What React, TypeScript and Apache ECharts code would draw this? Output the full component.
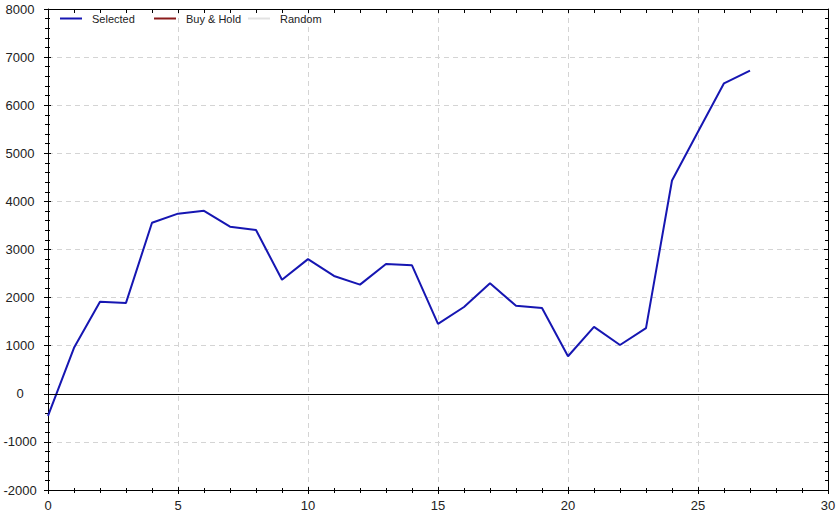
import React, { useEffect, useRef } from "react";
import * as echarts from "echarts";

const xValues = [0, 1, 2, 3, 4, 5, 6, 7, 8, 9, 10, 11, 12, 13, 14, 15, 16, 17, 18, 19, 20, 21, 22, 23, 24, 25, 26, 27];
const selectedValues = [-460, 955, 1915, 1890, 3555, 3745, 3805, 3475, 3405, 2370, 2800, 2450, 2270, 2700, 2670, 1455, 1805, 2300, 1830, 1785, 780, 1390, 1015, 1365, 4435, 5450, 6455, 6720];
const buyHoldValues: number[] = [];
const randomValues: number[] = [];
const seriesNames = ["Selected", "Buy & Hold", "Random"];
const seriesColors = ["#1616b2", "#8b1c1c", "#e2e2e2"];
const legendLefts = [60, 154, 248];

const FONT = "'Liberation Sans', Arial, sans-serif";

export default function App() {
  const ref = useRef<HTMLDivElement>(null);
  useEffect(() => {
    if (!ref.current) return;
    const chart = echarts.init(ref.current, null, { renderer: "svg" });
    const yBase = { type: "value", min: -2000, max: 8000, interval: 1000 };
    const xBase = { type: "value", min: 0, max: 30, interval: 5 };
    const axLine = { show: true, onZero: false, lineStyle: { color: "#000", width: 1 } };
    const noLine = { show: false, onZero: false };
    const split = { show: true, lineStyle: { color: "#d4d4d4", type: [5, 4], width: 1 } };
    const option: any = {
      animation: false,
      backgroundColor: "#fff",
      grid: { left: 48, right: 11, top: 9, bottom: 24, containLabel: false },
      legend: seriesNames.map((n, i) => ({
        left: legendLefts[i],
        top: 13,
        padding: 0,
        itemWidth: 22,
        itemHeight: 2,
        icon: "rect",
        data: [{ name: n, itemStyle: { color: seriesColors[i] } }],
        textStyle: { fontFamily: FONT, fontSize: 11, color: "#222", padding: [0, 0, 0, 5] },
        selectedMode: false,
      })),
      xAxis: [
        {
          ...xBase,
          position: "bottom",
          axisLine: axLine,
          axisTick: { show: true, inside: false, length: 4, lineStyle: { color: "#000" } },
          minorTick: { show: true, splitNumber: 5, length: 3, lineStyle: { color: "#000" } },
          axisLabel: { show: true, margin: 9, fontFamily: FONT, fontSize: 13, color: "#222" },
          splitLine: split,
        },
        {
          ...xBase,
          position: "bottom",
          axisLine: noLine,
          axisTick: { show: true, inside: true, length: 3, lineStyle: { color: "#000" } },
          minorTick: { show: true, splitNumber: 5, length: 2, lineStyle: { color: "#000" } },
          axisLabel: { show: false },
          splitLine: { show: false },
        },
        {
          ...xBase,
          position: "top",
          axisLine: axLine,
          axisTick: { show: true, inside: true, length: 4, lineStyle: { color: "#000" } },
          minorTick: { show: true, splitNumber: 5, length: 4, lineStyle: { color: "#000" } },
          axisLabel: { show: false },
          splitLine: { show: false },
        },
      ],
      yAxis: [
        {
          ...yBase,
          position: "left",
          axisLine: axLine,
          axisTick: { show: true, inside: false, length: 4, lineStyle: { color: "#000" } },
          minorTick: { show: true, splitNumber: 5, length: 3, lineStyle: { color: "#000" } },
          axisLabel: {
            show: true,
            margin: 28,
            align: "center",
            fontFamily: FONT,
            fontSize: 13,
            color: "#222",
            formatter: (v: number) => String(v),
          },
          splitLine: split,
        },
        {
          ...yBase,
          position: "left",
          axisLine: noLine,
          axisTick: { show: true, inside: true, length: 3, lineStyle: { color: "#000" } },
          minorTick: { show: true, splitNumber: 5, length: 2, lineStyle: { color: "#000" } },
          axisLabel: { show: false },
          splitLine: { show: false },
        },
        {
          ...yBase,
          position: "right",
          axisLine: axLine,
          axisTick: { show: true, inside: true, length: 4, lineStyle: { color: "#000" } },
          minorTick: { show: true, splitNumber: 5, length: 3, lineStyle: { color: "#000" } },
          axisLabel: { show: false },
          splitLine: { show: false },
        },
      ],
      series: [
        {
          name: seriesNames[0],
          type: "line",
          xAxisIndex: 0,
          yAxisIndex: 0,
          symbol: "none",
          lineStyle: { color: seriesColors[0], width: 2 },
          itemStyle: { color: seriesColors[0] },
          data: xValues.map((x, i) => [x, selectedValues[i]]),
          markLine: {
            silent: true,
            symbol: ["none", "none"],
            label: { show: false },
            lineStyle: { color: "#000", type: "solid", width: 1 },
            data: [{ yAxis: 0 }],
          },
          z: 3,
        },
        {
          name: seriesNames[1],
          type: "line",
          symbol: "none",
          lineStyle: { color: seriesColors[1], width: 2 },
          itemStyle: { color: seriesColors[1] },
          data: buyHoldValues,
        },
        {
          name: seriesNames[2],
          type: "line",
          symbol: "none",
          lineStyle: { color: seriesColors[2], width: 2 },
          itemStyle: { color: seriesColors[2] },
          data: randomValues,
        },
      ],
    };
    chart.setOption(option);
    return () => chart.dispose();
  }, []);
  return (
    <div
      ref={ref}
      style={{ position: "fixed", left: 0, top: 0, width: 839, height: 514, background: "#fff" }}
    />
  );
}
